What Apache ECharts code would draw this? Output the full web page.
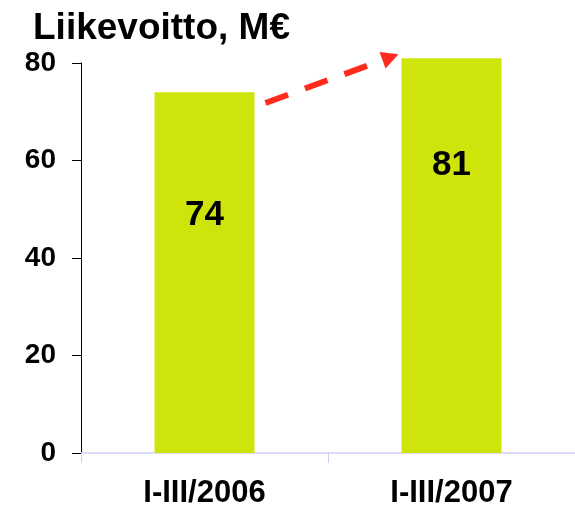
<!DOCTYPE html>
<html>
<head>
<meta charset="utf-8">
<script src="https://cdn.jsdelivr.net/npm/echarts@6/dist/echarts.min.js"></script>
<style>
html,body{margin:0;padding:0;background:#fff;}
#chart{width:575px;height:509px;}
</style>
</head>
<body>
<div id="chart"></div>
<script>
const chartTitle = 'Liikevoitto, M€';
const categories = ['I-III/2006', 'I-III/2007'];
const values = [74, 81];
const yMin = 0, yMax = 80, yStep = 20;

const FONT = '"Liberation Sans", Arial, sans-serif';
const chart = echarts.init(document.getElementById('chart'), null, {renderer: 'canvas'});

const labelDistances = [106, 90];

chart.setOption({
  animation: false,
  backgroundColor: '#ffffff',
  title: {
    text: chartTitle,
    left: 28, top: 5,
    textStyle: {fontFamily: FONT, fontWeight: 'bold', fontSize: 37, color: '#000'}
  },
  grid: {left: 81, width: 502, top: 63, height: 391.5, containLabel: false},
  xAxis: {
    type: 'category',
    data: categories,
    axisLine: {lineStyle: {color: '#D0D0F5', width: 1.5}},
    axisTick: {show: true, length: 10, lineStyle: {color: '#D0D0F5', width: 1}},
    axisLabel: {margin: 25, fontFamily: FONT, fontWeight: 'bold', fontSize: 31, color: '#000'}
  },
  yAxis: {
    type: 'value',
    min: yMin, max: yMax, interval: yStep,
    splitLine: {show: false},
    axisLine: {show: true, lineStyle: {color: '#000', width: 1}},
    axisTick: {show: true, length: 9, lineStyle: {color: '#000', width: 1}},
    axisLabel: {margin: 25, fontFamily: FONT, fontWeight: 'bold', fontSize: 28, color: '#000'}
  },
  series: [{
    type: 'bar',
    barWidth: 100,
    clip: false,
    itemStyle: {color: '#CEE40A'},
    data: values.map((v, i) => ({
      value: v,
      label: {
        show: true, position: 'insideTop', distance: labelDistances[i],
        fontFamily: FONT, fontWeight: 'bold', fontSize: 35, color: '#000'
      }
    }))
  }]
});

// dashed red arrow from first bar top to second bar top
const p0 = chart.convertToPixel({gridIndex: 0}, [0, values[0]]);
const p1 = chart.convertToPixel({gridIndex: 0}, [1, values[1]]);
const start = [p0[0] + 61, p0[1] + 10.7];
const tip = [p1[0] - 53, p1[1] - 3.8];
const dx = tip[0] - start[0], dy = tip[1] - start[1];
const len = Math.sqrt(dx * dx + dy * dy);
const ux = dx / len, uy = dy / len;
const headLen = 17, headHalf = 8.8;
const base = [tip[0] - ux * headLen, tip[1] - uy * headLen];
const nx = -uy, ny = ux;
const arrowColor = '#FF2B1C';

chart.setOption({
  graphic: [
    {
      type: 'line', z: 10,
      shape: {x1: start[0], y1: start[1], x2: base[0], y2: base[1]},
      style: {stroke: arrowColor, lineWidth: 6, lineDash: [24, 18], lineCap: 'butt'}
    },
    {
      type: 'polygon', z: 10,
      shape: {points: [
        [tip[0], tip[1]],
        [base[0] + nx * headHalf, base[1] + ny * headHalf],
        [base[0] - nx * headHalf, base[1] - ny * headHalf]
      ]},
      style: {fill: arrowColor}
    }
  ]
});
</script>
</body>
</html>
